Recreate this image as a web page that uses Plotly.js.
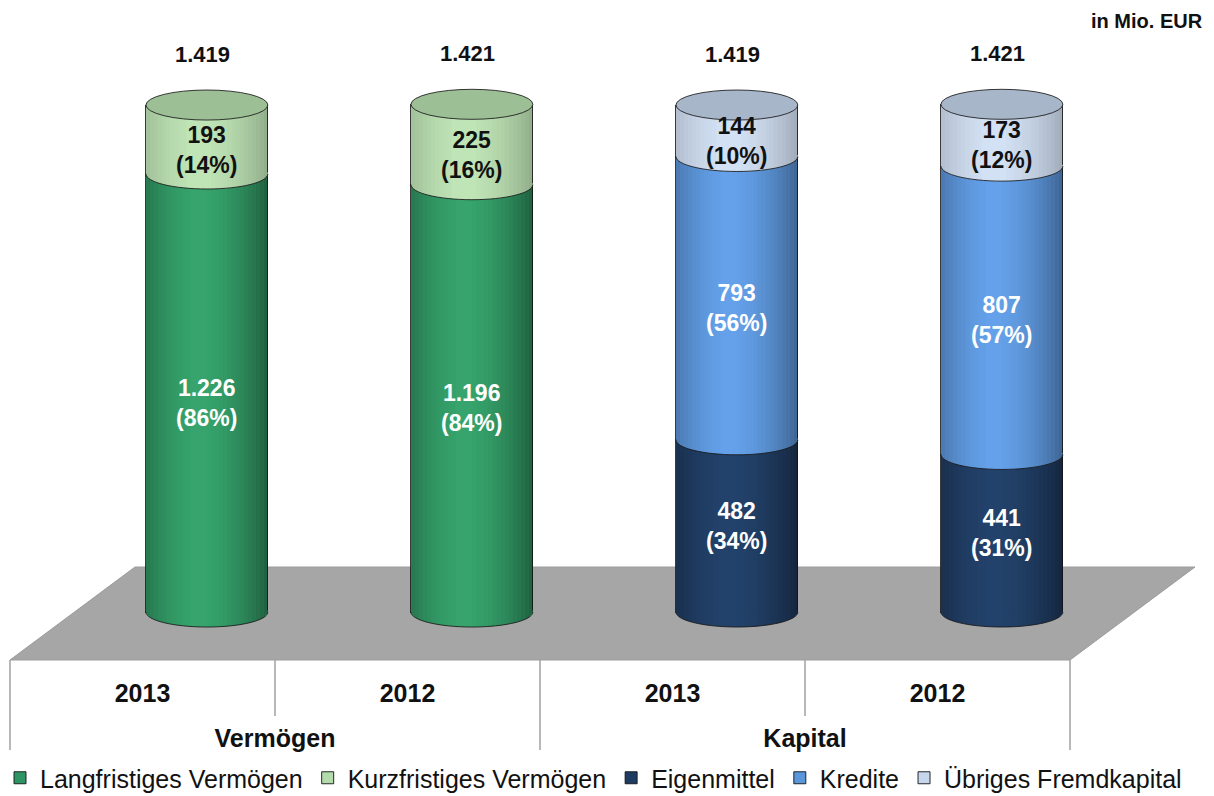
<!DOCTYPE html>
<html>
<head>
<meta charset="utf-8">
<script src="https://cdn.plot.ly/plotly-3.0.1.min.js"></script>
<style>
  html, body { margin: 0; padding: 0; background: #ffffff; }
  #chart { width: 1214px; height: 796px; }
</style>
</head>
<body>
<div id="chart"></div>
<script>
// ---------------- data ----------------
const groups = ['Vermögen', 'Vermögen', 'Kapital', 'Kapital'];
const years  = ['2013', '2012', '2013', '2012'];

const seriesNames = ['Langfristiges Vermögen', 'Kurzfristiges Vermögen', 'Eigenmittel', 'Kredite', 'Übriges Fremdkapital'];
const langfristig    = [1226, 1196, null, null];
const kurzfristig    = [193, 225, null, null];
const eigenmittel    = [null, null, 482, 441];
const kredite        = [null, null, 793, 807];
const uebrigesFK     = [null, null, 144, 173];

const pctLangfristig = [86, 84, null, null];
const pctKurzfristig = [14, 16, null, null];
const pctEigenmittel = [null, null, 34, 31];
const pctKredite     = [null, null, 56, 57];
const pctUebrigesFK  = [null, null, 10, 12];

const unitLabel = 'in Mio. EUR';

// ---------------- styling ----------------
const seriesValues = [langfristig, kurzfristig, eigenmittel, kredite, uebrigesFK];
const seriesPct    = [pctLangfristig, pctKurzfristig, pctEigenmittel, pctKredite, pctUebrigesFK];
const colors    = ['#36a46c', '#bfe4b6', '#23426b', '#64a1ea', '#d3e1f4'];
const legendColors = ['#2f9463', '#b4dbac', '#1e3b62', '#5b95da', '#c6d6ec'];
const topColors = ['#2a8a59', '#9dbf95', '#1a3355', '#5083c0', '#a8b6ca'];
const textColors = ['#ffffff', '#111111', '#ffffff', '#ffffff', '#111111'];
const labelShift = [-10, -10, 0, -10, -10];
const shadeStrength = [0.42, 0.24, 0.42, 0.38, 0.24];
const FONT = 'Liberation Sans, Arial, Helvetica, sans-serif';
const outline = 'rgba(25,25,25,0.85)';

const idx = years.map((_, i) => i);
const BARW = 0.46;
const RY = 42;          // ellipse half-height in data units
const EPS = 4;

function fmt(n) {
  const s = String(Math.round(n));
  return s.replace(/\B(?=(\d{3})+(?!\d))/g, '.');
}

// group label positions = centre of the member categories
const groupNames = [...new Set(groups)];
const groupPos = groupNames.map(g => {
  const m = idx.filter(i => groups[i] === g);
  return m.reduce((a, b) => a + b, 0) / m.length;
});

// ---------------- traces ----------------
const traces = seriesNames.map((name, k) => ({
  type: 'bar',
  name: name,
  x: idx,
  y: seriesValues[k],
  width: BARW,
  marker: { color: colors[k], line: { color: outline, width: 1 } },
  hoverinfo: 'name+y',
  xaxis: 'x', yaxis: 'y',
  showlegend: false
}));
// legend entries (flat swatch colours as in the reference legend)
seriesNames.forEach((name, k) => traces.push({
  type: 'bar', name: name, x: [null], y: [null],
  marker: { color: legendColors[k], line: { color: 'rgba(20,20,20,0.9)', width: 1 } },
  xaxis: 'x', yaxis: 'y', hoverinfo: 'skip', showlegend: true
}));
// helper traces for the label axes
traces.push({ type: 'scatter', mode: 'markers', x: idx, y: idx.map(() => null),
  marker: { opacity: 0 }, showlegend: false, hoverinfo: 'skip', xaxis: 'x2', yaxis: 'y' });
traces.push({ type: 'scatter', mode: 'markers', x: groupPos, y: groupPos.map(() => null),
  marker: { opacity: 0 }, showlegend: false, hoverinfo: 'skip', xaxis: 'x3', yaxis: 'y' });

// ---------------- shapes / labels ----------------
const shapes = [];
const annotations = [];
const XD = 'x2 domain', YD = 'y domain';

// floor
shapes.push({
  type: 'path', xref: XD, yref: YD, layer: 'below',
  path: 'M 0 0 L 1 0 L 1.1179 0.1476 L 0.1179 0.1476 Z',
  fillcolor: '#a6a6a6', line: { color: '#9c9c9c', width: 1 }
});
// table lines below the floor
[0, 0.5, 1].forEach(px => shapes.push({
  type: 'line', xref: XD, yref: YD,
  x0: px, x1: px, y0: 0, y1: -0.143, line: { color: '#a0a0a0', width: 1.5 }
}));
[0.25, 0.75].forEach(px => shapes.push({
  type: 'line', xref: XD, yref: YD,
  x0: px, x1: px, y0: 0, y1: -0.089, line: { color: '#a0a0a0', width: 1.5 }
}));

const K = 0.5523;
function halfEllipse(xc, v, filled, color) {
  const xl = xc - BARW / 2, xr = xc + BARW / 2, rx = BARW / 2;
  const curve = `C ${xl} ${v - K * RY} ${xc - K * rx} ${v - RY} ${xc} ${v - RY} ` +
                `C ${xc + K * rx} ${v - RY} ${xr} ${v - K * RY} ${xr} ${v}`;
  if (filled) {
    return { type: 'path', xref: 'x', yref: 'y', layer: 'above',
      path: `M ${xl} ${v + EPS} L ${xl} ${v} ${curve} L ${xr} ${v + EPS} Z`,
      fillcolor: color, line: { width: 0 } };
  }
  return { type: 'path', xref: 'x', yref: 'y', layer: 'above',
    path: `M ${xl} ${v} ${curve}`,
    line: { color: outline, width: 1 } };
}

// cylinder shading strips (darker towards the edges)
const NSTRIP = 30;
function shadeAlpha(t, strength) {           // t in [-1,1] across the cylinder
  const d = Math.abs(t + 0.12) / 1.12;
  return Math.min(strength, strength * Math.pow(d, 1.8));
}
function ell(t) { return Math.sqrt(Math.max(0, 1 - t * t)); }

idx.forEach(i => {
  let base = 0;
  let lastK = -1;
  const segs = [];
  seriesValues.forEach((vals, k) => {
    const v = vals[i];
    if (v == null) return;
    shapes.push(halfEllipse(i, base, true, colors[k]));
    segs.push({ b: base, t: base + v, k: k });
    annotations.push({
      xref: 'x', yref: 'y', x: i, y: base + v / 2, yshift: labelShift[k],
      text: `${fmt(v)}<br>(${seriesPct[k][i]}%)`,
      showarrow: false,
      font: { family: FONT, size: 23, color: textColors[k], weight: 'bold' }
    });
    base += v;
    lastK = k;
  });
  // shading per segment (following the front curves)
  const rx = BARW / 2;
  segs.forEach(sg => {
    for (let s = 0; s < NSTRIP; s++) {
      const ta = -1 + 2 * s / NSTRIP, tb = -1 + 2 * (s + 1) / NSTRIP;
      const a = shadeAlpha((ta + tb) / 2, shadeStrength[sg.k]);
      if (a < 0.01) continue;
      const xa = i + ta * rx, xb = i + tb * rx;
      const topA = sg.t === base ? sg.t : sg.t - RY * ell(ta);
      const topB = sg.t === base ? sg.t : sg.t - RY * ell(tb);
      shapes.push({
        type: 'path', xref: 'x', yref: 'y', layer: 'above',
        path: `M ${xa} ${sg.b - RY * ell(ta)} L ${xb} ${sg.b - RY * ell(tb)} L ${xb} ${topB} L ${xa} ${topA} Z`,
        fillcolor: `rgba(0,0,0,${a.toFixed(3)})`, line: { width: 0 }
      });
    }
  });
  // boundary curves
  segs.forEach(sg => shapes.push(halfEllipse(i, sg.b, false)));
  // top face
  shapes.push({
    type: 'circle', xref: 'x', yref: 'y', layer: 'above',
    x0: i - rx, x1: i + rx, y0: base - RY, y1: base + RY,
    fillcolor: topColors[lastK], line: { color: outline, width: 1 }
  });
  // total
  annotations.push({
    xref: 'x', yref: 'y', x: i, y: base, yshift: 51, xshift: -4,
    text: fmt(base), showarrow: false,
    font: { family: FONT, size: 22, color: '#111111', weight: 'bold' }
  });
});

annotations.push({
  xref: XD, yref: YD, x: 1.1274, y: 1.0143,
  xanchor: 'right', yanchor: 'middle',
  text: unitLabel, showarrow: false,
  font: { family: FONT, size: 20, color: '#111111', weight: 'bold' }
});

// ---------------- layout ----------------
const W = 1214, H = 796;
const dom = [10 / W, 1070 / W];
const labelFont = { family: FONT, size: 25, color: '#111111', weight: 'bold' };
const layout = {
  width: W, height: H,
  margin: { l: 0, r: 0, t: 30, b: 136, autoexpand: false },
  paper_bgcolor: '#ffffff', plot_bgcolor: 'rgba(0,0,0,0)',
  font: { family: FONT, color: '#111111' },
  barmode: 'stack',
  showlegend: true,
  legend: {
    orientation: 'h', xref: 'paper', yref: 'container',
    x: 0, xanchor: 'left', y: 0.0226, yanchor: 'middle',
    font: { family: FONT, size: 25, color: '#111111' },
    traceorder: 'normal', itemclick: false, itemdoubleclick: false
  },
  xaxis: { domain: dom, range: [-0.743, 3.257], visible: false, fixedrange: true },
  xaxis2: {
    domain: dom, overlaying: 'x', side: 'bottom', range: [-0.5, 3.5],
    tickmode: 'array', tickvals: idx, ticktext: years,
    showgrid: false, zeroline: false, showline: false, ticks: '',
    ticklabelstandoff: 16, tickfont: labelFont, fixedrange: true
  },
  xaxis3: {
    domain: dom, overlaying: 'x', side: 'bottom', range: [-0.5, 3.5],
    tickmode: 'array', tickvals: groupPos, ticktext: groupNames,
    showgrid: false, zeroline: false, showline: false, ticks: '',
    ticklabelstandoff: 61, tickfont: labelFont, fixedrange: true
  },
  yaxis: { range: [-134.3, 1629], visible: false, fixedrange: true },
  shapes: shapes,
  annotations: annotations
};

Plotly.newPlot('chart', traces, layout, { displayModeBar: false });
</script>
</body>
</html>
